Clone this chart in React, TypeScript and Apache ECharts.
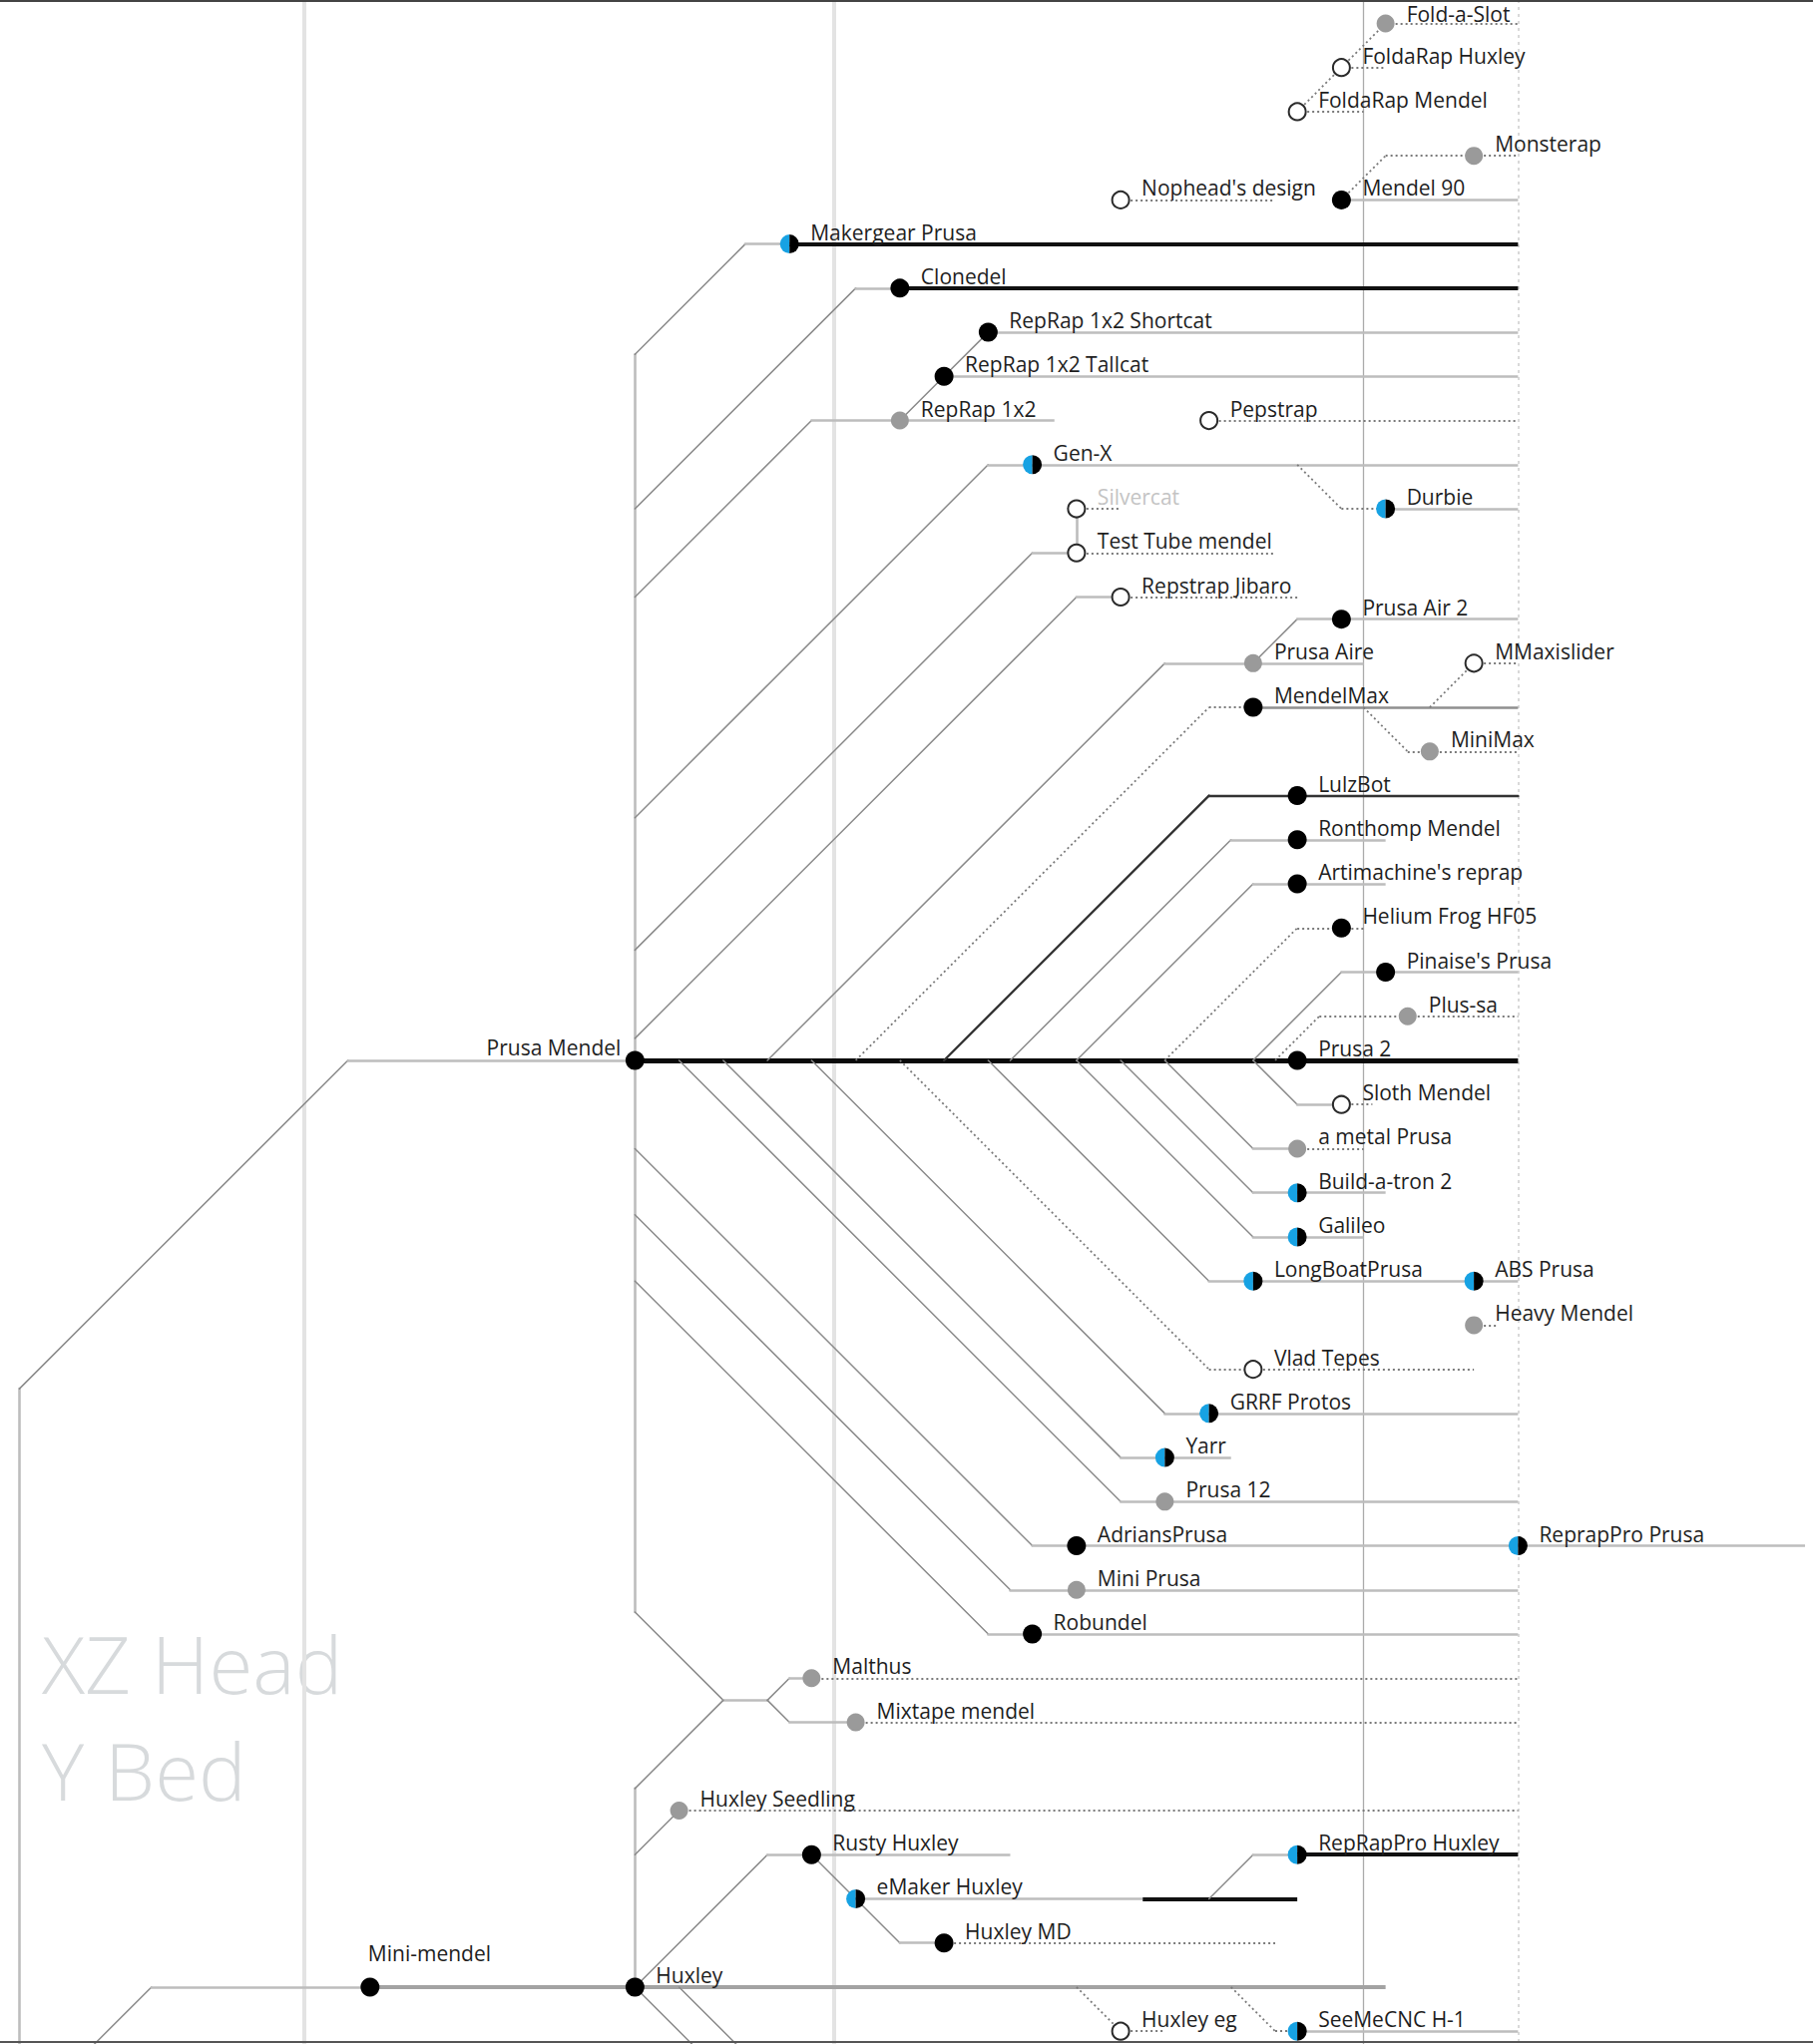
import React, { useEffect, useRef } from "react";
import * as echarts from "echarts";

// ---- Data (x: months from first grid line, y: row index) ----
const NODE_NAMES = [
  "Fold-a-Slot", "FoldaRap Huxley", "FoldaRap Mendel", "Monsterap", "Nophead's design", "Mendel 90",
  "Makergear Prusa", "Clonedel", "RepRap 1x2 Shortcat", "RepRap 1x2 Tallcat", "RepRap 1x2", "Pepstrap",
  "Gen-X", "Silvercat", "Durbie", "Test Tube mendel", "Repstrap Jibaro", "Prusa Air 2", "Prusa Aire",
  "MMaxislider", "MendelMax", "MiniMax", "LulzBot", "Ronthomp Mendel", "Artimachine's reprap",
  "Helium Frog HF05", "Pinaise's Prusa", "Plus-sa", "Prusa Mendel", "Prusa 2", "Sloth Mendel",
  "a metal Prusa", "Build-a-tron 2", "Galileo", "LongBoatPrusa", "ABS Prusa", "Heavy Mendel",
  "Vlad Tepes", "GRRF Protos", "Yarr", "Prusa 12", "AdriansPrusa", "ReprapPro Prusa", "Mini Prusa",
  "Robundel", "Malthus", "Mixtape mendel", "Huxley Seedling", "Rusty Huxley", "RepRapPro Huxley",
  "eMaker Huxley", "Huxley MD", "Mini-mendel", "Huxley", "Huxley eg", "SeeMeCNC H-1",
];
const NODE_X = [
  24.5, 23.5, 22.5, 26.5, 18.5, 23.5,
  11, 13.5, 15.5, 14.5, 13.5, 20.5,
  16.5, 17.5, 24.5, 17.5, 18.5, 23.5, 21.5,
  26.5, 21.5, 25.5, 22.5, 22.5, 22.5,
  23.5, 24.5, 25, 7.5, 22.5, 23.5,
  22.5, 22.5, 22.5, 21.5, 26.5, 26.5,
  21.5, 20.5, 19.5, 19.5, 17.5, 27.5, 17.5,
  16.5, 11.5, 12.5, 8.5, 11.5, 22.5,
  12.5, 14.5, 1.5, 7.5, 18.5, 22.5,
];
const NODE_Y = [
  0, 1, 2, 3, 4, 4,
  5, 6, 7, 8, 9, 9,
  10, 11, 11, 12, 13, 13.5, 14.5,
  14.5, 15.5, 16.5, 17.5, 18.5, 19.5,
  20.5, 21.5, 22.5, 23.5, 23.5, 24.5,
  25.5, 26.5, 27.5, 28.5, 28.5, 29.5,
  30.5, 31.5, 32.5, 33.5, 34.5, 34.5, 35.5,
  36.5, 37.5, 38.5, 40.5, 41.5, 41.5,
  42.5, 43.5, 44.5, 44.5, 45.5, 45.5,
];
// b = black, g = grey, w = hollow, h = half blue / half black
const NODE_KIND = [
  "g", "w", "w", "g", "w", "b",
  "h", "b", "b", "b", "g", "w",
  "h", "w", "h", "w", "w", "b", "g",
  "w", "b", "g", "b", "b", "b",
  "b", "b", "g", "b", "b", "w",
  "g", "h", "h", "h", "h", "g",
  "w", "h", "h", "g", "b", "h", "g",
  "b", "g", "g", "g", "b", "h",
  "h", "b", "b", "b", "w", "h",
];

// lifelines: [node index, end x, style]
const LIFELINES: [number, number, string][] = [
  [0, 27.5, "dot"], [1, 24.5, "dot"], [2, 24, "dot"], [3, 27.5, "dot"], [4, 22, "dot"], [5, 27.5, "thin"],
  [6, 27.5, "thick"], [7, 27.5, "thick"], [8, 27.5, "thin"], [9, 27.5, "thin"], [10, 17, "thin"], [11, 27.5, "dot"],
  [12, 27.5, "thin"], [13, 18.5, "dot"], [14, 27.5, "thin"], [15, 22, "dot"], [16, 22.5, "dot"], [17, 27.5, "thin"],
  [18, 24, "thin"], [19, 27.5, "dot"], [20, 27.5, "mid"], [21, 27.5, "dot"], [22, 27.5, "dark"], [23, 24.5, "thin"],
  [24, 24.5, "thin"], [25, 24, "dot"], [26, 27.5, "thin"], [27, 27.5, "dot"], [28, 27.5, "heavy"], [30, 24.2, "dot"],
  [31, 24, "dot"], [32, 24.5, "thin"], [33, 24, "thin"], [34, 26.5, "thin"], [35, 27.5, "thin"], [36, 27, "dot"],
  [37, 26.5, "dot"], [38, 27.5, "thin"], [39, 21, "thin"], [40, 27.5, "thin"], [41, 34, "thin"], [43, 27.5, "thin"],
  [44, 27.5, "thin"], [45, 27.5, "dot"], [46, 27.5, "dot"], [47, 27.5, "dot"], [48, 16, "thin"], [49, 27.5, "thick"],
  [50, 19, "thin"], [51, 22, "dot"], [52, 24.5, "mid4"], [54, 19.5, "dot"], [55, 27.5, "thin"],
];

// connectors: g = grey, d = dotted, k = dark, t = thick
const CONNECTOR_STYLE = [
  "g", "g", "g", "g", "g", "g", "g", "g", "g", "g",
  "d", "g", "g", "g", "g", "g", "d", "d", "d", "k",
  "g", "g", "d", "g", "d", "g", "g", "g", "g", "g",
  "d", "g", "g", "g", "g", "g", "g", "g", "g", "g",
  "g", "g", "g", "g", "g", "t", "g", "d", "d", "g",
  "g", "d", "d", "d",
];
const CONNECTOR_POINTS: number[][][] = [
  [[-6.44, 45.8], [-6.44, 30.94], [1, 23.5], [7.5, 23.5]],
  [[-4.75, 45.8], [-3.45, 44.5], [1.5, 44.5]],
  [[7.5, 7.5], [7.5, 36]],
  [[7.5, 40], [7.5, 44.5]],
  [[7.5, 7.5], [10, 5], [11, 5]],
  [[7.5, 11], [12.5, 6], [13.5, 6]],
  [[7.5, 13], [11.5, 9], [13.5, 9]],
  [[13.5, 9], [14.5, 8]],
  [[14.5, 8], [15.5, 7]],
  [[7.5, 18], [15.5, 10], [16.5, 10]],
  [[22.5, 10], [23.5, 11], [24.5, 11]],
  [[7.5, 21], [16.5, 12], [17.5, 12]],
  [[17.5, 12], [17.5, 11]],
  [[7.5, 23], [17.5, 13], [18.5, 13]],
  [[10.5, 23.5], [19.5, 14.5], [21.5, 14.5]],
  [[21.5, 14.5], [22.5, 13.5], [23.5, 13.5]],
  [[12.5, 23.5], [20.5, 15.5], [21.5, 15.5]],
  [[25.5, 15.5], [26.5, 14.5]],
  [[24, 15.5], [25, 16.5], [25.5, 16.5]],
  [[14.5, 23.5], [20.5, 17.5], [22.5, 17.5]],
  [[16, 23.5], [21, 18.5], [22.5, 18.5]],
  [[17.5, 23.5], [21.5, 19.5], [22.5, 19.5]],
  [[19.5, 23.5], [22.5, 20.5], [23.5, 20.5]],
  [[21.5, 23.5], [23.5, 21.5], [24.5, 21.5]],
  [[22, 23.5], [23, 22.5], [25, 22.5]],
  [[21.5, 23.5], [22.5, 24.5], [23.5, 24.5]],
  [[19.5, 23.5], [21.5, 25.5], [22.5, 25.5]],
  [[18.5, 23.5], [21.5, 26.5], [22.5, 26.5]],
  [[17.5, 23.5], [21.5, 27.5], [22.5, 27.5]],
  [[15.5, 23.5], [20.5, 28.5], [21.5, 28.5]],
  [[13.5, 23.5], [20.5, 30.5], [21.5, 30.5]],
  [[11.5, 23.5], [19.5, 31.5], [20.5, 31.5]],
  [[9.5, 23.5], [18.5, 32.5], [19.5, 32.5]],
  [[8.5, 23.5], [18.5, 33.5], [19.5, 33.5]],
  [[7.5, 25.5], [16.5, 34.5], [17.5, 34.5]],
  [[7.5, 27], [16, 35.5], [17.5, 35.5]],
  [[7.5, 28.5], [15.5, 36.5], [16.5, 36.5]],
  [[7.5, 36], [9.5, 38], [10.5, 38]],
  [[7.5, 40], [9.5, 38]],
  [[10.5, 38], [11, 37.5], [11.5, 37.5]],
  [[10.5, 38], [11, 38.5], [12.5, 38.5]],
  [[7.5, 41.5], [8.5, 40.5]],
  [[7.5, 44.5], [10.5, 41.5], [11.5, 41.5]],
  [[11.5, 41.5], [12.5, 42.5]],
  [[12.5, 42.5], [13.5, 43.5], [14.5, 43.5]],
  [[19, 42.5], [22.5, 42.5]],
  [[20.5, 42.5], [21.5, 41.5], [22.5, 41.5]],
  [[17.5, 44.5], [18.5, 45.5]],
  [[21, 44.5], [22, 45.5], [22.5, 45.5]],
  [[7.5, 44.5], [8.8, 45.8]],
  [[8.5, 44.5], [9.8, 45.8]],
  [[23.5, 4], [24.5, 3], [26.5, 3]],
  [[22.5, 2], [23.5, 1]],
  [[23.5, 1], [24.5, 0]],
];

const GRID_LIGHT_X = [0, 12];
const GRID_DARK_X = [24];
const NOW_X = 27.5;
const X_MIN = -6.88;
const X_MAX = 34.18;
const Y_MIN = -0.53;
const Y_MAX = 45.79;

const BLUE = "#17a2e3";
const FONT = '21px "Open Sans", "Noto Sans", sans-serif';

const STYLES: Record<string, any> = {
  diag: { color: "#8a8a8a", width: 1.5, type: "solid", cap: "round", opacity: 1 },
  axis: { color: "#bdbdbd", width: 2.6, type: "solid", cap: "round", opacity: 1 },
  thin: { color: "#bdbdbd", width: 2.6, type: "solid", cap: "butt", opacity: 1 },
  dot: { color: "#7a7a7a", width: 1.8, type: [2, 3], cap: "butt", opacity: 1 },
  dark: { color: "#333333", width: 2.4, type: "solid", cap: "round", opacity: 1 },
  thick: { color: "#111111", width: 4, type: "solid", cap: "butt", opacity: 1 },
  heavy: { color: "#0a0a0a", width: 5, type: "solid", cap: "butt", opacity: 1 },
  mid: { color: "#8f8f8f", width: 2.6, type: "solid", cap: "butt", opacity: 1 },
  mid4: { color: "#a3a3a3", width: 4, type: "solid", cap: "butt", opacity: 1 },
};

function buildSegments() {
  const segs: any[] = [];
  const push = (a: number[], b: number[], st: string) =>
    segs.push({ coords: [a, b], lineStyle: { ...STYLES[st] } });
  GRID_LIGHT_X.forEach((x) =>
    segs.push({ coords: [[x, Y_MIN], [x, Y_MAX]], lineStyle: { color: "#e3e3e3", width: 4, type: "solid", opacity: 1 } })
  );
  GRID_DARK_X.forEach((x) =>
    segs.push({ coords: [[x, Y_MIN], [x, Y_MAX]], lineStyle: { color: "#ababab", width: 1.3, type: "solid", opacity: 1 } })
  );
  segs.push({
    coords: [[NOW_X, Y_MIN], [NOW_X, Y_MAX]],
    lineStyle: { color: "#d0d0d0", width: 1.6, type: [3, 4], opacity: 1 },
  });
  LIFELINES.forEach(([i, endX, st]) => {
    push([NODE_X[i], NODE_Y[i]], [endX, NODE_Y[i]], st);
  });
  CONNECTOR_POINTS.forEach((pts, ci) => {
    const kind = CONNECTOR_STYLE[ci];
    for (let k = 0; k < pts.length - 1; k++) {
      const a = pts[k];
      const b = pts[k + 1];
      let st = "diag";
      if (kind === "d") st = "dot";
      else if (kind === "k") st = "dark";
      else if (kind === "t") st = "thick";
      else if (a[0] === b[0] || a[1] === b[1]) st = "axis";
      push(a, b, st);
    }
  });
  return segs;
}

export default function App() {
  const ref = useRef<HTMLDivElement>(null);
  useEffect(() => {
    document.body.style.margin = "0";
    const chart = echarts.init(ref.current!, null, { renderer: "svg" });
    const segs = buildSegments();
    const nodeData = NODE_X.map((x, i) => [x, NODE_Y[i]]);
    chart.setOption({
      animation: false,
      backgroundColor: "#ffffff",
      grid: { left: 0, right: 0, top: 0, bottom: 0 },
      xAxis: { type: "value", min: X_MIN, max: X_MAX, show: false },
      yAxis: { type: "value", min: Y_MIN, max: Y_MAX, inverse: true, show: false },
      graphic: [
        { type: "line", shape: { x1: 0, y1: 1, x2: 1817, y2: 1 }, style: { stroke: "#444", lineWidth: 2 }, z: 10 },
        { type: "line", shape: { x1: 0, y1: 2047, x2: 1817, y2: 2047 }, style: { stroke: "#555", lineWidth: 2 }, z: 10 },
        {
          type: "text", left: 42, top: 1626, z: 0,
          style: { text: "XZ Head", font: '300 80px "Open Sans", "Noto Sans", sans-serif', fill: "#d7dadc" },
        },
        {
          type: "text", left: 42, top: 1733, z: 0,
          style: { text: "Y Bed", font: '300 80px "Open Sans", "Noto Sans", sans-serif', fill: "#d7dadc" },
        },
      ],
      series: [
        {
          type: "lines",
          coordinateSystem: "cartesian2d",
          z: 1,
          silent: true,
          lineStyle: { opacity: 1 },
          data: segs,
        },
        {
          type: "custom",
          z: 3,
          silent: true,
          encode: { x: 0, y: 1 },
          data: nodeData,
          renderItem: (params: any, api: any) => {
            const i = params.dataIndex;
            const p = api.coord([api.value(0), api.value(1)]);
            const cx = p[0];
            const cy = p[1];
            const kind = NODE_KIND[i];
            const children: any[] = [];
            const r = 9.5;
            if (kind === "h") {
              children.push({
                type: "sector",
                shape: { cx, cy, r0: 0, r, startAngle: Math.PI / 2, endAngle: Math.PI * 1.5, clockwise: true },
                style: { fill: BLUE },
              });
              children.push({
                type: "sector",
                shape: { cx, cy, r0: 0, r, startAngle: -Math.PI / 2, endAngle: Math.PI / 2, clockwise: true },
                style: { fill: "#000" },
              });
            } else if (kind === "w") {
              children.push({
                type: "circle",
                shape: { cx, cy, r: 8.5 },
                style: { fill: "#fff", stroke: "#2a2a2a", lineWidth: 2 },
              });
            } else {
              children.push({
                type: "circle",
                shape: { cx, cy, r: kind === "g" ? 9 : 9.5 },
                style: { fill: kind === "g" ? "#9a9a9a" : "#000" },
              });
            }
            let tx = cx + 21;
            let ty = cy - 12;
            let align = "left";
            if (i === 28) {
              tx = cx - 14;
              ty = cy - 13;
              align = "right";
            } else if (i === 52) {
              tx = cx - 2;
              ty = cy - 34;
            } else if (i === 0) {
              ty = cy - 9;
            }
            const fill = i === 13 ? "#c4c4c4" : "#1e1e1e";
            children.push({
              type: "text",
              x: tx,
              y: ty,
              style: {
                text: NODE_NAMES[i],
                font: FONT,
                fill,
                align,
                verticalAlign: "middle",
                textAlign: align,
                textVerticalAlign: "middle",
              },
            });
            return { type: "group", children };
          },
        },
      ],
    });
    return () => chart.dispose();
  }, []);
  return <div ref={ref} style={{ position: "absolute", left: 0, top: 0, width: 1817, height: 2049 }} />;
}
